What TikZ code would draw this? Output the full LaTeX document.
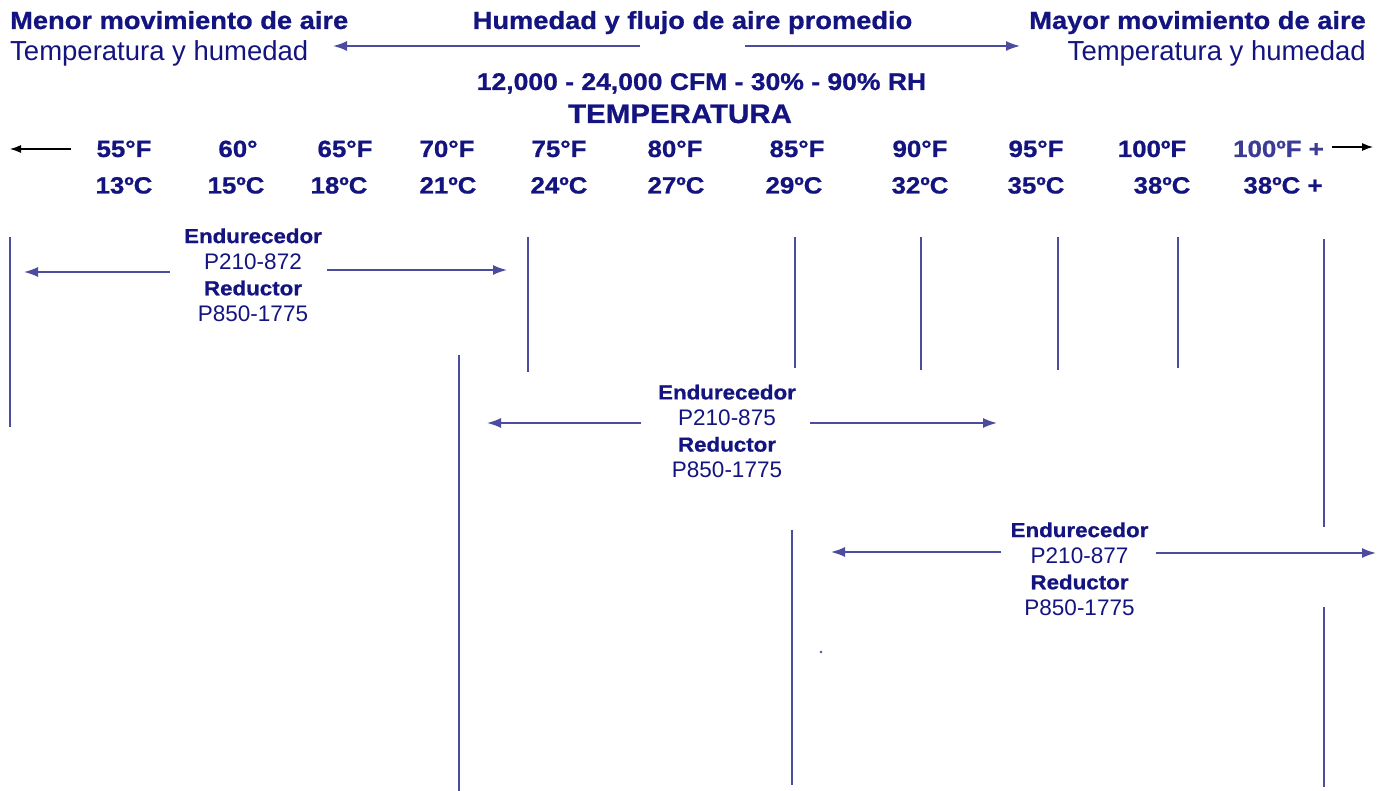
\documentclass[tikz,border=0pt]{standalone}
\usepackage{fontspec}
\setmainfont{Liberation Sans}
\newfontfamily\wideb[FakeStretch=1.1,BoldFeatures={FakeBold=0.8}]{Liberation Sans}
\definecolor{NavyText}{RGB}{20,20,128}
\definecolor{NavySoft}{RGB}{60,60,150}
\definecolor{LineBlue}{RGB}{75,75,160}
\usetikzlibrary{arrows.meta}
\newcommand{\bfb}[1]{{\wideb\bfseries\fontsize{20.3}{26.1}\selectfont #1}}

\begin{document}
\begin{tikzpicture}[x=1pt,y=-1pt,>={Latex[length=14pt,width=10pt]},
    hd/.style={font=\wideb\bfseries\fontsize{24.8}{28}\selectfont,text=NavyText,inner sep=0pt},
    sub/.style={font=\fontsize{27.5}{30}\selectfont,text=NavyText,inner sep=0pt},
    tp/.style={font=\wideb\bfseries\fontsize{23.5}{26}\selectfont,text=NavyText,inner sep=0pt,anchor=base},
    blk/.style={font=\fontsize{22.5}{26.1}\selectfont,text=NavyText,align=center,inner sep=0pt},
    ar/.style={->,line width=1.7pt,draw=LineBlue},
    bk/.style={-{Latex[length=11pt,width=8pt]},line width=1.2pt,draw=black},
    vl/.style={line width=1.4pt,draw=LineBlue}]
  \useasboundingbox (0,0) rectangle (1383,791);
  % headings
  \node[hd,anchor=base west] (menor) at (10,29) {Menor movimiento de aire};
  \node[sub,anchor=base west] (menorsub) at (10,61) {Temperatura y humedad};
  \node[hd,anchor=base] (prom) at (692.5,29) {Humedad y flujo de aire promedio};
  \node[hd,anchor=base east] (mayor) at (1366,29) {Mayor movimiento de aire};
  \node[sub,anchor=base east] (mayorsub) at (1366,61) {Temperatura y humedad};
  \coordinate (promLs) at (640,46);
  \coordinate (promL) at (333,46);
  \coordinate (promRs) at (745,46);
  \coordinate (promR) at (1020,46);
  \draw[ar] (promLs) -- (promL);
  \draw[ar] (promRs) -- (promR);
  \node[hd,anchor=base,font=\wideb\bfseries\fontsize{24.1}{27}\selectfont] (cfm) at (701.5,90) {12,000 - 24,000 CFM - 30\% - 90\% RH};
  \node[hd,anchor=base,font=\wideb\bfseries\fontsize{26.8}{30}\selectfont] (temp) at (680,123) {TEMPERATURA};
  % temperature scale
  \foreach \i/\xf/\tf/\xc/\tc in {1/124/55°F/124/13ºC, 2/238/60°/236/15ºC, 3/345/65°F/339/18ºC,
      4/447/70°F/448/21ºC, 5/559/75°F/559/24ºC, 6/675/80°F/676/27ºC, 7/797/85°F/794/29ºC,
      8/920/90°F/920/32ºC, 9/1036/95°F/1036/35ºC, 10/1152/100ºF/1162/38ºC}{
    \node[tp] (tf\i) at (\xf,157) {\tf};
    \node[tp] (tc\i) at (\xc,193.5) {\tc};
  }
  \node[tp,text=NavySoft] (tf11) at (1278.5,157) {100ºF +};
  \node[tp] (tc11) at (1283,193.5) {38ºC +};
  \coordinate (coldL) at (10,149);
  \coordinate (hotR) at (1373,147);
  \draw[bk] ([xshift=-25pt]tf1.west |- coldL) -- (coldL);
  \draw[bk] ([xshift=8pt]tf11.east |- hotR) -- (hotR);
  % range limits
  \foreach \x/\ya/\yb in {10/237/427, 528/237/372, 795/237/368, 921/237/370, 1058/237/370,
      1178/237/368, 1324/239/527, 1324/607/787, 459/355/791, 792/530/785}
    \draw[vl] (\x,\ya) -- (\x,\yb);
  \fill[LineBlue] (821,652) circle (1.3pt);
  % products
  \node[blk] (b1) at (253,275) {\bfb{Endurecedor}\\P210-872\\\bfb{Reductor}\\P850-1775};
  \node[blk] (b2) at (727,431.3) {\bfb{Endurecedor}\\P210-875\\\bfb{Reductor}\\P850-1775};
  \node[blk] (b3) at (1079.5,569) {\bfb{Endurecedor}\\P210-877\\\bfb{Reductor}\\P850-1775};
  \coordinate (b1l) at (24,272);
  \coordinate (b1r) at (507,270);
  \coordinate (b2l) at (487,423);
  \coordinate (b2r) at (997,423);
  \coordinate (b3l) at (831,552);
  \coordinate (b3r) at (1376,553);
  \draw[ar] ([xshift=-14pt]b1.west |- b1l) -- (b1l);
  \draw[ar] ([xshift=5pt]b1.east |- b1r) -- (b1r);
  \draw[ar] ([xshift=-17pt]b2.west |- b2l) -- (b2l);
  \draw[ar] ([xshift=14pt]b2.east |- b2r) -- (b2r);
  \draw[ar] ([xshift=-9pt]b3.west |- b3l) -- (b3l);
  \draw[ar] ([xshift=7pt]b3.east |- b3r) -- (b3r);
\end{tikzpicture}
\end{document}
